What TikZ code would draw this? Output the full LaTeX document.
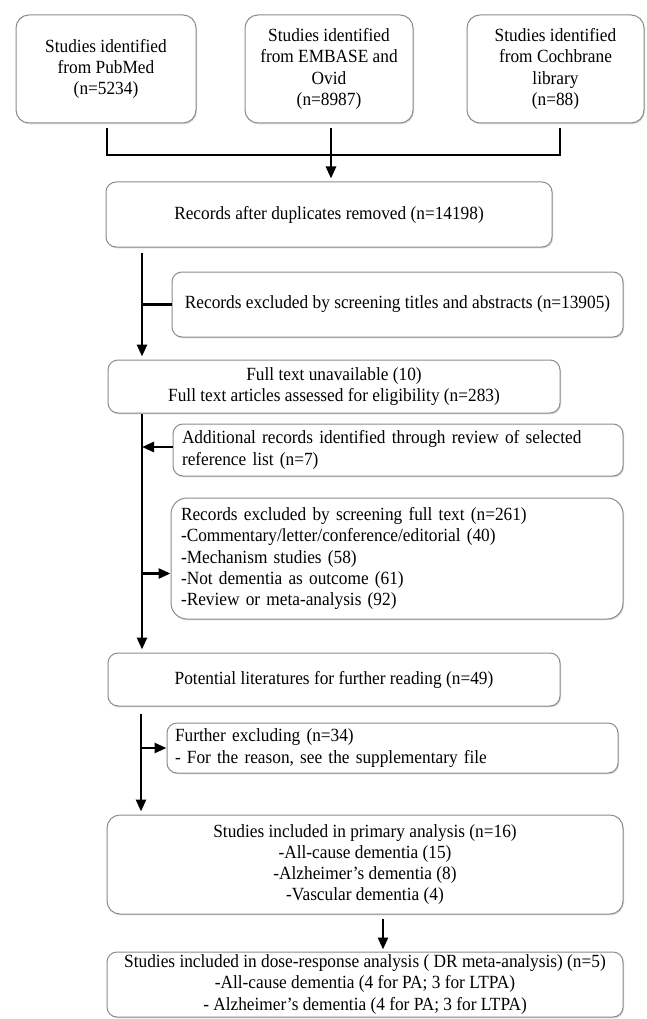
\documentclass[tikz,border=0pt]{standalone}
\usepackage{fontspec}
\setmainfont{Liberation Serif}[FakeStretch=0.93]
\usetikzlibrary{arrows.meta,shadows}
\begin{document}
\begin{tikzpicture}[x=1pt,y=-1pt,
  box/.style={draw={rgb,255:red,140;green,140;blue,140}, line width=1pt, rounded corners=10pt,
    fill=white, inner sep=0pt, font=\fontsize{18.6}{21.2}\selectfont,
    drop shadow={shadow xshift=1pt,shadow yshift=-1.3pt,opacity=0.3}},
  cbox/.style={box, align=center},
  lbox/.style={box, align=left, inner xsep=9pt},
  conn/.style={line width=2.6pt, draw=black},
  arr/.style={conn, -{Triangle[length=12pt,width=10pt]}}]
\useasboundingbox (0,0) rectangle (646,1019);

% top sources
\node[cbox, minimum width=180pt, minimum height=108pt, rounded corners=13pt] (b1) at (106,69)
  {Studies identified\\from PubMed\\(n=5234)};
\node[cbox, minimum width=168pt, minimum height=108pt, rounded corners=13pt] (b2) at (329,69)
  {Studies identified\\from EMBASE and\\Ovid\\(n=8987)};
\node[cbox, minimum width=177pt, minimum height=108pt, rounded corners=13pt] (b3) at (555.5,69)
  {Studies identified\\from Cochbrane\\library\\(n=88)};

\node[cbox, minimum width=446pt, minimum height=65pt] (dup) at (329,214.5)
  {Records after duplicates removed (n=14198)};
\node[cbox, minimum width=451pt, minimum height=65pt] (tit) at (397.5,304.5)
  {Records excluded by screening titles and abstracts (n=13905)};
\node[cbox, minimum width=452pt, minimum height=53pt] (full) at (334,386.5)
  {Full text unavailable (10)\\Full text articles assessed for eligibility (n=283)};
\node[lbox, text width=432pt, minimum height=52pt] (add) at (398,450)
  {Additional records identified through review of selected\\reference list (n=7)};
\node[lbox, text width=432pt, minimum height=121pt, rounded corners=16pt, inner xsep=10pt] (excl) at (397,558.5)
  {Records excluded by screening full text (n=261)\\-Commentary/letter/conference/editorial (40)\\-Mechanism studies (58)\\-Not dementia as outcome (61)\\-Review or meta-analysis (92)};
\node[cbox, minimum width=452pt, minimum height=53pt] (pot) at (334,679.5)
  {Potential literatures for further reading (n=49)};
\node[lbox, text width=435pt, minimum height=50pt, inner xsep=8pt] (fur) at (392.5,748)
  {Further excluding (n=34)\\- For the reason, see the supplementary file};
\node[cbox, minimum width=516pt, minimum height=99pt, rounded corners=13pt] (prim) at (365,864.5)
  {Studies included in primary analysis (n=16)\\-All-cause dementia (15)\\-Alzheimer’s dementia (8)\\-Vascular dementia (4)};
\node[cbox, minimum width=516pt, minimum height=65pt] (dose) at (365,984.5)
  {Studies included in dose-response analysis ( DR meta-analysis) (n=5)\\-All-cause dementia (4 for PA; 3 for LTPA)\\- Alzheimer’s dementia (4 for PA; 3 for LTPA)};

% helper coordinates
\coordinate (j) at (331,155);
\coordinate (sp) at (142,0);
\coordinate (sq) at (141,0);
\coordinate (ar) at (383,0);

% connectors
\draw[conn, shorten <=5pt, shorten >=5pt] (b1.south -| 107,0) -- (j -| 107,0) -- (j -| 560,0) -- (b3.south -| 560,0);
\draw[arr, shorten <=5pt, shorten >=3pt] (b2.south -| j) -- (dup.north -| j);
\draw[arr, shorten <=5pt, shorten >=3pt] (dup.south -| sp) -- (full.north -| sp);
\draw[conn] (tit.west -| sp) -- (tit.west);
\draw[arr] ([yshift=3pt]add.west) -- ([yshift=3pt]add.west -| sp);
\draw[arr, shorten >=3pt] (full.south -| sp) -- (pot.north -| sp);
\draw[arr] ([yshift=-15pt]excl.west -| sp) -- ([yshift=-15pt]excl.west);
\draw[arr, shorten <=7pt, shorten >=3pt] (pot.south -| sq) -- (prim.north -| sq);
\draw[arr] (fur.west -| sq) -- (fur.west);
\draw[arr, shorten <=4pt, shorten >=2pt] (prim.south -| ar) -- (dose.north -| ar);
\end{tikzpicture}
\end{document}
